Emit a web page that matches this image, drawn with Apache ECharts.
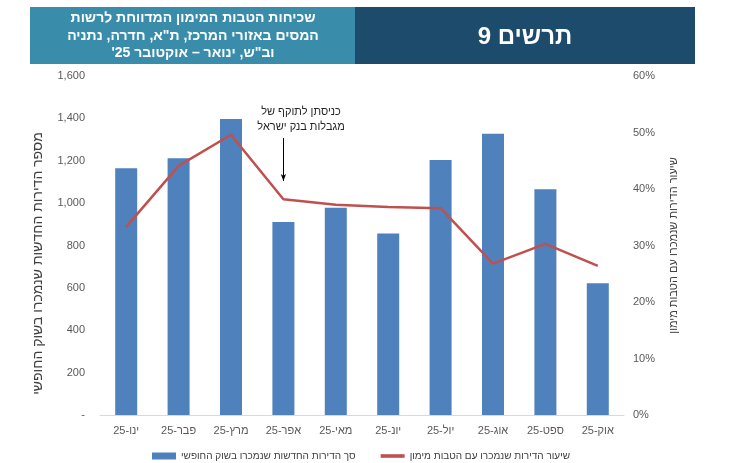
<!DOCTYPE html>
<html lang="he">
<head>
<meta charset="utf-8">
<script src="https://cdn.jsdelivr.net/npm/echarts@6/dist/echarts.min.js"></script>
<style>
  html, body { margin: 0; padding: 0; background: #fff; }
  #chart { width: 752px; height: 463px; direction: rtl; }
</style>
</head>
<body>
<div id="chart"></div>
<script>
// נתונים
const months = ["ינו-25", "פבר-25", "מרץ-25", "אפר-25", "מאי-25", "יונ-25", "יול-25", "אוג-25", "ספט-25", "אוק-25"];
const newHomesSold = [1165, 1212, 1397, 911, 978, 857, 1204, 1328, 1066, 622]; // סך הדירות החדשות
const financeShare = [33.3, 44.1, 49.6, 38.2, 37.2, 36.8, 36.6, 26.8, 30.3, 26.4]; // אחוזים
const arrowFromTo = [1307, 1104]; // חץ ההערה, בערכי הציר השמאלי

const barName = "סך הדירות החדשות שנמכרו בשוק החופשי";
const lineName = "שיעור הדירות שנמכרו עם הטבות מימון";
const FONT = "'Liberation Sans', 'DejaVu Sans', sans-serif";

const chart = echarts.init(document.getElementById("chart"));

const option = {
  backgroundColor: "#fff",
  textStyle: { fontFamily: FONT },
  animation: false,
  grid: { left: 100, right: 128, top: 76, bottom: 48 },
  legend: {
    left: 147,
    top: 446,
    itemWidth: 24,
    itemHeight: 7,
    itemGap: 25,
    textStyle: { fontSize: 10, color: "#404040", fontFamily: FONT },
    data: [
      { name: barName, icon: "rect" },
      { name: lineName, icon: "path://M0 0H20V3H0Z" }
    ]
  },
  xAxis: {
    type: "category",
    data: months,
    axisLine: { lineStyle: { color: "#d9d9d9" } },
    axisTick: { show: false },
    axisLabel: { color: "#595959", fontSize: 11, margin: 10 }
  },
  yAxis: [
    {
      type: "value",
      min: 0,
      max: 1600,
      interval: 200,
      name: "מספר הדירות החדשות שנמכרו בשוק החופשי",
      nameLocation: "middle",
      nameRotate: 90,
      nameGap: 55,
      nameTextStyle: { color: "#404040", fontSize: 14, padding: [0, 36, 0, 0] },
      axisLine: { show: false },
      axisTick: { show: false },
      splitLine: { show: false },
      axisLabel: {
        color: "#595959",
        fontSize: 11,
        margin: 15,
        formatter: v => (v === 0 ? "-" : v.toLocaleString("en-US"))
      }
    },
    {
      type: "value",
      min: 0,
      max: 60,
      interval: 10,
      name: "שיעור הדירות שנמכרו עם הטבות מימון",
      nameLocation: "middle",
      nameRotate: 90,
      nameGap: 44,
      nameTextStyle: { color: "#404040", fontSize: 11 },
      axisLine: { show: false },
      axisTick: { show: false },
      splitLine: { show: false },
      axisLabel: { color: "#595959", fontSize: 11, margin: 9, formatter: "{value}%" }
    }
  ],
  series: [
    {
      name: barName,
      type: "bar",
      data: newHomesSold,
      barWidth: 22,
      itemStyle: { color: "#4F81BD" },
      markLine: {
        silent: true,
        symbol: ["none", "arrow"],
        symbolSize: [4, 7],
        label: { show: false },
        lineStyle: { color: "#000", width: 1, type: "solid" },
        emphasis: { disabled: true },
        data: [[
          { coord: [months[3], arrowFromTo[0]] },
          { coord: [months[3], arrowFromTo[1]] }
        ]]
      }
    },
    {
      name: lineName,
      type: "line",
      yAxisIndex: 1,
      data: financeShare,
      symbol: "none",
      lineStyle: { color: "#C0504D", width: 2.5 },
      itemStyle: { color: "#C0504D" }
    }
  ],
  graphic: [
    { type: "rect", shape: { x: 30, y: 7, width: 325, height: 57 }, style: { fill: "#3A8CAB" } },
    { type: "rect", shape: { x: 355, y: 7, width: 340, height: 57 }, style: { fill: "#1C4B6B" } },
    {
      type: "text",
      style: {
        x: 193, y: 36,
        text: "שכיחות הטבות המימון המדווחת לרשות\nהמסים באזורי המרכז, ת\"א, חדרה, נתניה\nוב\"ש, ינואר – אוקטובר 25'",
        textAlign: "center",
        textVerticalAlign: "middle",
        lineHeight: 17.5,
        font: "bold 14px " + FONT,
        fill: "#fff"
      }
    },
    {
      type: "text",
      style: {
        x: 525, y: 37,
        text: "תרשים 9",
        textAlign: "center",
        textVerticalAlign: "middle",
        font: "bold 24px " + FONT,
        fill: "#fff"
      }
    },
    {
      type: "text",
      style: {
        x: 301, y: 119,
        text: "כניסתן לתוקף של\nמגבלות בנק ישראל",
        textAlign: "center",
        textVerticalAlign: "middle",
        lineHeight: 15,
        font: "11px " + FONT,
        fill: "#262626"
      }
    }
  ]
};

chart.setOption(option);
</script>
</body>
</html>
